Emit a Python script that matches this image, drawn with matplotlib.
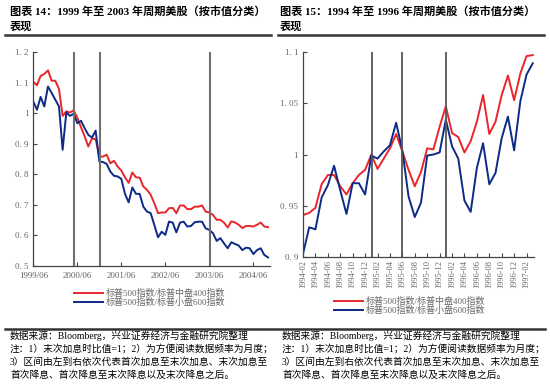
import numpy as np
import matplotlib
matplotlib.use('Agg')
import matplotlib.pyplot as plt
from matplotlib.lines import Line2D

plt.rcParams['font.family'] = ['Liberation Serif', 'Noto Sans CJK SC', 'DejaVu Sans']

# 图表14 数据 (1999/06 起, 月度)
mid400_a = [1.102, 1.091, 1.122, 1.128, 1.140, 1.106, 1.106, 1.079, 0.991, 1.006,
            1.002, 1.009, 0.985, 0.954, 0.924, 0.891, 0.917, 0.915, 0.858, 0.858,
            0.864, 0.836, 0.844, 0.825, 0.812, 0.790, 0.772, 0.806, 0.790, 0.789,
            0.760, 0.749, 0.733, 0.705, 0.673, 0.675, 0.675, 0.689, 0.690, 0.673,
            0.698, 0.698, 0.686, 0.686, 0.694, 0.694, 0.698, 0.678, 0.675, 0.667,
            0.651, 0.651, 0.642, 0.626, 0.646, 0.642, 0.635, 0.624, 0.631, 0.631,
            0.629, 0.635, 0.642, 0.629, 0.627]
small600_a = [1.038, 1.011, 1.053, 1.022, 1.087, 1.066, 1.044, 1.022, 0.880, 1.002,
              0.991, 0.998, 0.967, 0.975, 0.951, 0.929, 0.920, 0.943, 0.842, 0.840,
              0.834, 0.809, 0.795, 0.793, 0.785, 0.736, 0.708, 0.757, 0.736, 0.736,
              0.694, 0.678, 0.673, 0.634, 0.594, 0.612, 0.602, 0.645, 0.642, 0.610,
              0.642, 0.645, 0.629, 0.631, 0.643, 0.645, 0.645, 0.623, 0.618, 0.607,
              0.582, 0.591, 0.574, 0.558, 0.578, 0.572, 0.567, 0.552, 0.560, 0.558,
              0.539, 0.552, 0.558, 0.536, 0.528]
xlabels_a = ['1999/06', '2000/06', '2001/06', '2002/06', '2003/06', '2004/06']
vlines_a = [11.2, 18.2, 48.2]

# 图表15 数据 (1994-02 起, 月度)
mid400_b = [0.941, 0.943, 0.948, 0.971, 0.980, 0.980, 0.969, 0.961, 0.972, 0.980,
            0.985, 1.000, 0.986, 0.996, 1.006, 1.020, 1.003, 0.985, 0.969, 0.983,
            1.006, 1.005, 1.027, 1.047, 1.021, 1.017, 1.002, 1.013, 1.032, 1.058,
            1.020, 1.032, 1.058, 1.077, 1.053, 1.079, 1.096, 1.097]
small600_b = [0.903, 0.929, 0.927, 0.958, 0.970, 0.989, 0.965, 0.942, 0.972, 0.972,
              0.961, 0.999, 0.996, 1.003, 1.009, 1.031, 1.004, 0.959, 0.939, 0.953,
              0.999, 1.000, 1.002, 1.034, 1.008, 0.996, 0.955, 0.944, 0.987, 1.011,
              0.971, 0.982, 1.016, 1.037, 1.004, 1.052, 1.078, 1.089]
xlabels_b = ['1994-02', '1994-04', '1994-06', '1994-08', '1994-10', '1994-12',
             '1995-02', '1995-04', '1995-06', '1995-08', '1995-10', '1995-12',
             '1996-02', '1996-04', '1996-06', '1996-08', '1996-10', '1996-12', '1997-02']
vlines_b = [11.1, 16.0, 23.1]

legend_names = ['标普500指数/标普中盘400指数', '标普500指数/标普小盘600指数']
red = '#e8262b'
blue = '#0c2a86'
gray = '#666666'

W, H = 550, 384
fig = plt.figure(figsize=(W / 100, H / 100), dpi=100)


def box(x0, y0, x1, y1):
    return [x0 / W, 1 - y1 / H, (x1 - x0) / W, (y1 - y0) / H]


def style(ax):
    for s in ['top', 'right']:
        ax.spines[s].set_visible(False)
    for s in ['left', 'bottom']:
        ax.spines[s].set_color('#444444')
        ax.spines[s].set_linewidth(0.9)
    ax.tick_params(direction='in', length=3, width=0.8, colors='#444444',
                   labelcolor=gray, labelsize=6.5)


# 左图
ax1 = fig.add_axes(box(33.3, 52, 269.5, 266))
x_a = np.arange(len(mid400_a))
ax1.plot(x_a, mid400_a, color=red, lw=1.4)
ax1.plot(x_a, small600_a, color=blue, lw=1.4)
for v in vlines_a:
    ax1.axvline(v, color='#707070', lw=1.5)
ax1.set_xlim(0, 64.4)
ax1.set_ylim(0.5, 1.2)
ax1.set_yticks([0.5, 0.6, 0.7, 0.8, 0.9, 1.0, 1.1, 1.2])
ax1.set_yticklabels(['0. 5', '0. 6', '0. 7', '0. 8', '0. 9', '1', '1. 1', '1. 2'])
ax1.set_xticks(np.arange(0, 61, 12))
ax1.set_xticklabels(xlabels_a)
style(ax1)
ax1.tick_params(axis='x', pad=4)

# 右图
ax2 = fig.add_axes(box(303, 52, 534, 257))
x_b = np.arange(len(mid400_b))
ax2.plot(x_b, mid400_b, color=red, lw=1.4)
ax2.plot(x_b, small600_b, color=blue, lw=1.4)
for v in vlines_b:
    ax2.axvline(v, color='#555555', lw=1.3)
ax2.set_xlim(0, 37.2)
ax2.set_ylim(0.9, 1.1)
ax2.set_yticks([0.9, 0.95, 1.0, 1.05, 1.1])
ax2.set_yticklabels(['0. 9', '0. 95', '1', '1. 05', '1. 1'])
ax2.set_xticks(np.arange(0, 37, 2))
ax2.set_xticklabels(xlabels_b, rotation=90)
style(ax2)
ax2.tick_params(axis='x', labelsize=6, pad=2)

# 图例
handles = [Line2D([], [], color=red, lw=1.4), Line2D([], [], color=blue, lw=1.4)]
for (lx, ly) in [(150 / W, 1 - 298 / H), (410 / W, 1 - 306 / H)]:
    leg = fig.legend(handles, legend_names, loc='center', bbox_to_anchor=(lx, ly),
                     frameon=False, fontsize=6.5, handlelength=3.2, handletextpad=0.3,
                     labelspacing=0.05, borderpad=0)
    for t in leg.get_texts():
        t.set_color(gray)

# 标题
titles = ['图表 14：1999 年至 2003 年周期美股（按市值分类）',
          '图表 15：1994 年至 1996 年周期美股（按市值分类）']
for tx, t in zip([10, 280], titles):
    fig.text(tx / W, 1 - 11 / H, t, fontsize=8, fontweight='bold', va='center')
    fig.text(tx / W, 1 - 27 / H, '表现', fontsize=8, fontweight='bold', va='center')

fig.add_artist(Line2D([5 / W, 271 / W], [1 - 35 / H, 1 - 35 / H], color='#333333', lw=1.8))
fig.add_artist(Line2D([278 / W, 544 / W], [1 - 35 / H, 1 - 35 / H], color='#333333', lw=1.8))
fig.add_artist(Line2D([5 / W, 545 / W], [1 - 329 / H, 1 - 329 / H], color='#333333', lw=1.8))

# 脚注
notes = ['数据来源：Bloomberg，兴业证券经济与金融研究院整理',
         '注：1）末次加息时比值=1；2）为方便阅读数据频率为月度；',
         '3）区间由左到右依次代表首次加息至末次加息、末次加息至',
         '首次降息、首次降息至末次降息以及末次降息之后。']
for tx in [10, 282]:
    for k, n in enumerate(notes):
        fig.text(tx / W, 1 - (336 + 13 * k) / H, n, fontsize=7, va='center')

fig.savefig('out.png', dpi=100)
